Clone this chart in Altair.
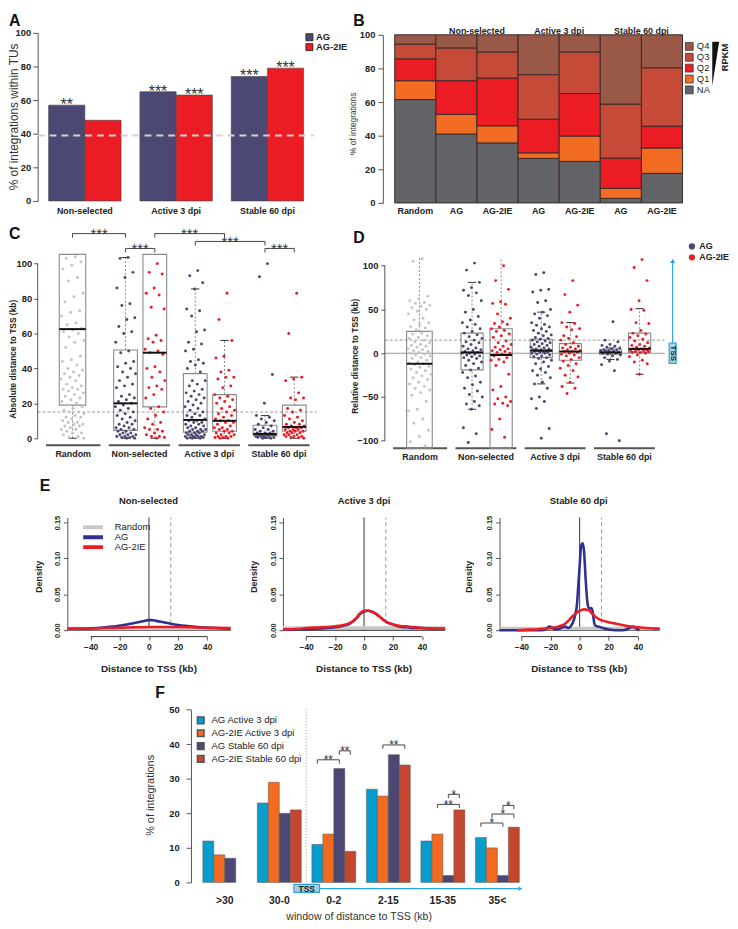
import altair as alt
import pandas as pd

FONT = "Liberation Sans"
W, H = 730, 921

NAVY = "#4B4874"
RED = "#EC1C24"
PTGREY = "#C4C4C4"
BLUE = "#2AA6DE"

# ================= DATA =================
# ---- A : % of integrations within TUs ----
A_groups = ["Non-selected", "Active 3 dpi", "Stable 60 dpi"]
A_AG = [57, 65, 74]
A_2IE = [48, 63, 79]
A_stars_AG = ["**", "***", "***"]
A_stars_2IE = ["", "***", "***"]
A_random_pct = 39

# ---- B : RPKM quartiles (segment heights, %) ----
B_keys = ["Random", "Non-selected|AG", "Non-selected|AG-2IE", "Active 3 dpi|AG",
          "Active 3 dpi|AG-2IE", "Stable 60 dpi|AG", "Stable 60 dpi|AG-2IE"]
B_NA = [61.5, 41.0, 35.7, 26.5, 24.7, 2.7, 17.6]
B_Q1 = [11.2, 11.7, 10.2, 3.3, 15.1, 5.9, 15.1]
B_Q2 = [13.0, 20.0, 28.4, 20.0, 25.3, 18.1, 13.0]
B_Q3 = [8.8, 19.5, 15.5, 26.5, 24.7, 32.1, 34.7]
B_Q4 = [5.5, 7.8, 10.2, 23.7, 10.2, 41.2, 19.6]

# ---- C : absolute distance to TSS (kb) ----
GROUPS = ["Random", "Non-selected", "Active 3 dpi", "Stable 60 dpi"]
BOXES = [("Random", "Random"), ("Non-selected", "AG"), ("Non-selected", "AG-2IE"),
         ("Active 3 dpi", "AG"), ("Active 3 dpi", "AG-2IE"),
         ("Stable 60 dpi", "AG"), ("Stable 60 dpi", "AG-2IE")]
C_random = [104, 103, 101, 99, 97, 92, 90, 83, 81, 78, 73, 72, 70, 66, 65, 63, 62, 61, 60, 58,
            56, 55, 52, 47, 45, 44, 42, 40, 39, 38, 37, 36, 35, 34, 33, 31, 30, 29, 28, 28, 27,
            26, 25, 24, 23, 22, 21, 20, 19, 18, 17, 16, 15, 15, 14, 13, 12, 12, 11, 10, 9, 9, 8,
            8, 7, 7, 6, 5, 5, 4, 3, 3, 2, 1, 0.5, 0]
C_ns_ag = [103.5, 103, 95, 92, 86, 77, 76, 69, 68, 64, 61, 60, 55, 50, 49, 44, 43, 41, 40, 38,
           37, 35, 33, 31, 30, 29, 25, 24, 23, 22, 21, 20, 19, 18, 17, 16, 15, 14, 13, 12, 11,
           10, 9, 8, 8, 7, 6, 6, 5, 5, 4, 4, 3, 3, 2, 2, 2, 1, 1, 1, 0.5, 0.5, 0, 0]
C_ns_2ie = [100, 95, 94, 86, 83, 82, 75, 74, 59, 57, 56, 55, 51, 50, 49, 48, 41, 40, 38, 35,
            33, 30, 29, 28, 25, 23, 18, 17, 15, 13, 11, 9, 8, 6, 5, 5, 4, 3, 2, 1, 1, 0.5, 0]
C_act_ag = [96, 93, 89, 85.5, 74, 73, 70, 62, 61, 55, 54, 51, 50, 45, 44, 43, 42, 40, 38, 33,
            33, 31, 30, 28, 27, 26, 25, 24, 23, 22, 21, 20, 19, 18, 17, 16, 15, 14, 13, 13, 12,
            11, 10, 10, 9, 9, 8, 8, 7, 7, 6, 6, 5, 5, 5, 4, 4, 4, 3, 3, 3, 2, 2, 2, 2, 1, 1, 1,
            1, 0.5, 0.5, 0.5, 0, 0, 0]
C_act_2ie = [83, 68, 56, 47, 46, 39, 38, 35, 35, 34, 30, 29, 25, 24, 23, 22, 21, 20, 18, 17,
             16, 15, 14, 13, 12, 11, 10, 10, 9, 9, 8, 7, 6, 6, 5, 5, 4, 4, 3, 3, 2, 2, 1, 1, 1,
             0.5, 0.5, 0, 0]
C_st_ag = [100, 92.5, 36.5, 20, 13, 12, 11, 10, 9, 8, 7, 6, 5, 5, 4, 4, 3, 3, 3, 2, 2, 2, 2, 2,
           1, 1, 1, 1, 0.5, 0.5, 0.5, 0, 0]
C_st_2ie = [83, 60, 35, 34, 33, 26, 23, 23, 22, 17, 16, 15, 13, 12, 11, 10, 9, 8, 8, 7, 7, 6, 6,
            6, 5, 5, 5, 4, 4, 4, 3, 3, 3, 2, 2, 2, 1, 1, 1, 0.5, 0.5, 0]
C_q1 = [19, 4.5, 18, 3.5, 4, 1.5, 4]
C_med = [62.5, 20, 49, 10.5, 10, 2.5, 6.5]
C_q3 = [125, 50.5, 112, 37, 25, 7.5, 19]
C_lo = [0, 0, 0, 0, 0, 0, 0]
C_hi = [200, 103.5, 150, 85.5, 56, 13, 35]
C_threshold = 15
C_brackets = [("Random", "Random", "Non-selected", "AG", 117.2, "***"),
              ("Non-selected", "AG", "Non-selected", "AG-2IE", 108.7, "***"),
              ("Non-selected", "AG-2IE", "Active 3 dpi", "AG-2IE", 117.2, "***"),
              ("Active 3 dpi", "AG", "Stable 60 dpi", "AG", 112.7, "***"),
              ("Stable 60 dpi", "AG", "Stable 60 dpi", "AG-2IE", 108.7, "***")]

# ---- D : relative distance to TSS (kb) ----
D_random = [108, 105, 65, 62, 60, 58, 57, 55, 54, 52, 50, 48, 45, 40, 38, 35, 33, 30, 29, 27,
            25, 23, 22, 20, 18, 17, 15, 13, 12, 10, 9, 8, 7, 5, 4, 3, 2, 1, 0, -1, -2, -3, -5,
            -6, -8, -10, -11, -12, -13, -15, -16, -18, -20, -22, -24, -26, -28, -30, -33, -35,
            -38, -40, -42, -45, -48, -55, -64, -66, -75, -80, -88, -95, -101, -106]
D_ns_ag = [103, 95, 81, 75, 72, 69, 66, 60, 50, 47, 42, 38, 35, 33, 30, 28, 25, 23, 21, 19, 17,
           15, 13, 12, 10, 8, 6, 5, 4, 3, 2, 1, 0, 0, -1, -2, -3, -4, -5, -6, -8, -10, -12, -14,
           -17, -19, -22, -26, -28, -33, -36, -40, -43, -47, -50, -55, -58, -60, -64, -85, -92,
           -102]
D_ns_2ie = [100, 83, 73, 59, 57, 56, 45, 40, 36, 34, 33, 30, 28, 26, 25, 22, 20, 18, 14, 12, 10,
            8, 7, 5, 4, 3, 2, 1, 0, -1, -3, -5, -7, -8, -10, -14, -24, -38, -42, -50, -52, -55,
            -57, -58, -60, -75, -87, -96]
D_act_ag = [92, 90, 73, 72, 70, 60, 58, 50, 47, 45, 43, 40, 35, 33, 32, 30, 28, 26, 25, 23, 21,
            20, 18, 17, 16, 15, 14, 13, 12, 11, 10, 9, 8, 7, 6, 5, 5, 4, 4, 3, 3, 3, 2, 2, 1, 1,
            0, 0, -1, -2, -3, -4, -5, -6, -8, -10, -12, -15, -18, -20, -22, -25, -28, -33, -35,
            -40, -50, -52, -55, -63, -86, -97]
D_act_2ie = [83, 67, 55, 47, 35, 34, 30, 28, 27, 20, 19, 17, 15, 12, 10, 8, 7, 6, 5, 4, 3, 2, 2,
             1, 0, -1, -2, -3, -5, -7, -9, -12, -14, -17, -20, -25, -27, -33, -38, -40, -46]
D_st_ag = [36, 15, 13, 10, 9, 8, 7, 6, 5, 4, 4, 3, 3, 2, 2, 1, 1, 0, 0, -1, -2, -3, -5, -7, -9,
           -13, -20, -92, -100]
D_st_2ie = [107, 98, 83, 60, 50, 49, 35, 34, 26, 23, 22, 20, 18, 16, 14, 12, 10, 9, 8, 7, 6, 5,
            5, 4, 4, 3, 3, 2, 2, 1, 1, 0, -2, -4, -8, -10, -12, -24]
D_q1 = [-120, -19, -115, -5, -8, -1, 1]
D_med = [-12, 1, -2, 3, 2, 1, 5]
D_q3 = [25, 23, 28, 16, 11, 4, 23]
D_lo = [-200, -64, -150, -35, -34, -7, -24]
D_hi = [200, 81, 150, 47, 35, 6, 51]
D_threshold = 15
D_tss = 0

# ---- E : density of distance to TSS ----
E_series = ["Random", "AG", "AG-2IE"]
E1_rand_x = [-56, 56]
E1_rand_y = [0.0025, 0.0025]
E1_ag_x = [-56, -45, -35, -25, -20, -15, -10, -5, 0, 2, 5, 10, 15, 20, 25, 30, 35, 45, 56]
E1_ag_y = [0.002, 0.002, 0.003, 0.005, 0.0065, 0.008, 0.010, 0.012, 0.014, 0.014, 0.013, 0.011,
           0.009, 0.0073, 0.006, 0.005, 0.004, 0.003, 0.002]
E1_2ie_x = [-56, -40, -30, -20, -10, 0, 10, 20, 30, 40, 56]
E1_2ie_y = [0.002, 0.0025, 0.003, 0.0035, 0.004, 0.0045, 0.0045, 0.0045, 0.004, 0.0035, 0.003]

E2_rand_x = [-56, 56]
E2_rand_y = [0.003, 0.003]
E2_x = [-56, -45, -40, -30, -20, -15, -10, -7, -5, -3, 0, 3, 5, 8, 10, 13, 15, 20, 25, 30, 35,
        40, 45, 56]
E2_ag_y = [0.0008, 0.001, 0.0015, 0.0025, 0.004, 0.006, 0.009, 0.013, 0.017, 0.022, 0.026,
           0.027, 0.026, 0.023, 0.020, 0.015, 0.012, 0.008, 0.005, 0.004, 0.003, 0.003, 0.0025,
           0.002]
E2_2ie_y = [0.001, 0.002, 0.003, 0.004, 0.0055, 0.007, 0.010, 0.014, 0.018, 0.023, 0.027,
            0.0275, 0.026, 0.023, 0.020, 0.015, 0.012, 0.008, 0.006, 0.005, 0.004, 0.003, 0.0025,
            0.002]

E3_rand_x = [-55, 55]
E3_rand_y = [0.0025, 0.0025]
E3_ag_x = [-55, -26, -23, -21, -19, -17, -14, -12, -10, -8, -6, -4, -3, -2, -1, 0, 1, 2, 3, 4,
           5, 6, 7, 8, 9, 10, 11, 13, 16, 20, 25, 30, 33, 35, 37, 39, 41]
E3_ag_y = [0, 0, 0.002, 0.005, 0.004, 0.001, 0.002, 0.004, 0.005, 0.003, 0.006, 0.014, 0.022,
           0.033, 0.06, 0.09, 0.117, 0.121, 0.11, 0.075, 0.045, 0.032, 0.03, 0.031, 0.025, 0.01,
           0.006, 0.005, 0.003, 0.001, 0, 0, 0.002, 0.004, 0.005, 0.002, 0]
E3_2ie_x = [-43, -35, -30, -25, -20, -15, -10, -6, -3, 0, 3, 6, 9, 12, 15, 20, 25, 30, 35, 40,
            45, 50, 55]
E3_2ie_y = [0, 0.0008, 0.001, 0.002, 0.003, 0.005, 0.009, 0.017, 0.023, 0.027, 0.029, 0.028,
            0.022, 0.017, 0.014, 0.011, 0.009, 0.007, 0.005, 0.004, 0.003, 0.0025, 0.002]
E_threshold = 15

# ---- F : % of integrations by window ----
F_windows = [">30", "30-0", "0-2", "2-15", "15-35", "35<"]
F_series = ["AG Active 3 dpi", "AG-2IE Active 3 dpi", "AG Stable 60 dpi", "AG-2IE Stable 60 dpi"]
F_ag_act = [12, 23, 11, 27, 12, 13]
F_2ie_act = [8, 29, 14, 25, 14, 10]
F_ag_st = [7, 20, 33, 37, 2, 2]
F_2ie_st = [None, 21, 9, 34, 21, 16]
F_brackets = [("0-2", "AG Active 3 dpi", "AG Stable 60 dpi", 35.5, "**"),
              ("0-2", "AG Stable 60 dpi", "AG-2IE Stable 60 dpi", 38.1, "**"),
              ("2-15", "AG-2IE Active 3 dpi", "AG-2IE Stable 60 dpi", 39.8, "**"),
              ("15-35", "AG Stable 60 dpi", "AG-2IE Stable 60 dpi", 25.5, "*"),
              ("15-35", "AG-2IE Active 3 dpi", "AG-2IE Stable 60 dpi", 22.6, "**"),
              ("35<", "AG Active 3 dpi", "AG Stable 60 dpi", 17.2, "*"),
              ("35<", "AG-2IE Active 3 dpi", "AG-2IE Stable 60 dpi", 19.8, "*"),
              ("35<", "AG Stable 60 dpi", "AG-2IE Stable 60 dpi", 22.3, "*")]

# ================= HELPERS =================
ONE = pd.DataFrame({"k": [0]})


def txt(s, x, y, size=9, weight="bold", angle=0, color="#222", align="center", baseline="middle"):
    return alt.Chart(ONE).mark_text(text=s, font=FONT, fontSize=size, fontWeight=weight,
                                    angle=angle, color=color, align=align,
                                    baseline=baseline).encode(x=alt.value(x), y=alt.value(y))


# ================= PANEL A =================
dfA = pd.DataFrame({"group": A_groups * 2, "sample": ["AG"] * 3 + ["AG-2IE"] * 3,
                    "pct": A_AG + A_2IE, "stars": A_stars_AG + A_stars_2IE})
xA = alt.X("group:N", sort=A_groups, title=None,
           scale=alt.Scale(domain=A_groups, range=[30, 310], paddingInner=0.2065, paddingOuter=0.12),
           axis=alt.Axis(orient="bottom", offset=190 - H, ticks=False, domain=False, labelAngle=0,
                         labelFontSize=9, labelFontWeight="bold", labelPadding=6))
yA = alt.Y("pct:Q", title=None,
           scale=alt.Scale(domain=[0, 100], range=[190, 20], nice=False, zero=False),
           axis=alt.Axis(orient="left", offset=-30, values=[0, 20, 40, 60, 80, 100], tickSize=5,
                         labelPadding=2, labelFontSize=9.5, labelFontWeight="bold"))
xoA = alt.XOffset("sample:N", sort=["AG", "AG-2IE"],
                  scale=alt.Scale(domain=["AG", "AG-2IE"], paddingInner=0, paddingOuter=0))
colA = alt.Color("sample:N", scale=alt.Scale(domain=["AG", "AG-2IE"], range=[NAVY, RED]),
                 legend=alt.Legend(orient="none", legendX=300, legendY=19.5, title=None,
                                   symbolType="square", symbolSize=50, symbolStrokeColor="#333",
                                   symbolStrokeWidth=1, labelFontSize=9.5, labelFontWeight="bold",
                                   labelOffset=2, rowPadding=0, clipHeight=10))
barsA = alt.Chart(dfA).mark_bar(stroke="#444", strokeWidth=0.6).encode(
    x=xA, xOffset=xoA, y=yA, color=colA)
starsA = alt.Chart(dfA).mark_text(font=FONT, fontSize=16, baseline="alphabetic", dy=5,
                                  color="#333").encode(x=xA, xOffset=xoA, y=yA, text="stars:N")
refA = alt.Chart(pd.DataFrame({"pct": [A_random_pct]})).mark_rule(
    color="#D2D2D2", strokeWidth=2, strokeDash=[7, 5]).encode(
    y=yA, x=alt.value(30), x2=alt.value(309))
panelA = alt.layer(barsA, refA, starsA)

# ================= PANEL B =================
B_vals = {"NA": B_NA, "Q1": B_Q1, "Q2": B_Q2, "Q3": B_Q3, "Q4": B_Q4}
dfB = pd.DataFrame([{"key": k, "q": q, "v": B_vals[q][i]}
                    for i, k in enumerate(B_keys) for q in ["NA", "Q1", "Q2", "Q3", "Q4"]])
xB = alt.X("key:N", sort=B_keys, title=None,
           scale=alt.Scale(domain=B_keys, range=[391, 682], paddingInner=0, paddingOuter=0),
           axis=alt.Axis(orient="bottom", offset=192 - H, ticks=False, domain=False, labelAngle=0,
                         labelFontSize=9, labelFontWeight="bold", labelPadding=4,
                         labelExpr="indexof(datum.label, '|') >= 0 ? split(datum.label, '|')[1] : datum.label"))
yB = alt.Y("v:Q", stack="zero", title=None,
           scale=alt.Scale(domain=[0, 100], range=[192, 22], nice=False, zero=False),
           axis=alt.Axis(orient="left", offset=-379, values=[0, 20, 40, 60, 80, 100], tickSize=5,
                         labelPadding=3, labelFontSize=9.5, labelFontWeight="bold"))
colB = alt.Color("q:N", scale=alt.Scale(domain=["Q4", "Q3", "Q2", "Q1", "NA"],
                                        range=["#9A5846", "#C54B38", "#EC1C24", "#F26C23", "#626366"]),
                 legend=alt.Legend(orient="none", legendX=684, legendY=28.5, title=None,
                                   symbolType="square", symbolSize=64, symbolStrokeColor="#333",
                                   symbolStrokeWidth=0.8, labelFontSize=9.5, labelOffset=3,
                                   rowPadding=0, clipHeight=10.4))
barsB = alt.Chart(dfB).transform_calculate(
    ord="indexof(['NA','Q1','Q2','Q3','Q4'], datum.q)").mark_bar(
    stroke="#3B2A2A", strokeWidth=1).encode(x=xB, y=yB, color=colB,
                                            order=alt.Order("ord:Q", sort="ascending"))
dfBh = pd.DataFrame({"key": [k for k in B_keys if k.endswith("|AG")],
                     "lab": [k.split("|")[0] for k in B_keys if k.endswith("|AG")]})
headB = alt.Chart(dfBh).mark_text(font=FONT, fontSize=9, fontWeight="bold", dx=20.8,
                                  color="#222").encode(x=xB, y=alt.value(18), text="lab:N")
panelB = alt.layer(barsB, headB)

# ================= PANELS C / D =================
GJS = "['Random','Non-selected','Active 3 dpi','Stable 60 dpi']"


def pos_expr(g, s):
    return (f"datum.{s} == 'Random' ? 0.5 : indexof({GJS}, datum.{g}) + 0.47 + "
            f"(datum.{s} == 'AG' ? -0.21 : 0.21)")


def points_df(lists):
    rows = []
    for (g, s), vals in zip(BOXES, lists):
        rows += [{"group": g, "sample": s, "v": v} for v in vals]
    return pd.DataFrame(rows)


def stats_df(q1, med, q3, lo, hi):
    return pd.DataFrame({"group": [b[0] for b in BOXES], "sample": [b[1] for b in BOXES],
                         "q1": q1, "med": med, "q3": q3, "lo": lo, "hi": hi})


def box_panel(pts, stats, xr, ydom, yr, yvals, lpad, hlines, x_end, ul_y, lab_y, hw, hwR,
              legend, extra=None, brackets=None):
    ymin, ymax = ydom
    xs = alt.Scale(domain=[0, 4], range=xr, nice=False, zero=False)
    ys = alt.Scale(domain=ydom, range=yr, nice=False, zero=False)
    yax = alt.Axis(orient="left", offset=-xr[0], values=yvals, tickSize=4, labelPadding=lpad,
                   domain=False, labelFontSize=9.5, labelFontWeight="bold")

    def X(f):
        return alt.X(f, scale=xs, axis=None, title=None)

    def Y(f):
        return alt.Y(f, scale=ys, axis=yax, title=None)

    layers = []
    for v, dash, col in hlines:
        kw = dict(color=col, strokeWidth=1)
        if dash:
            kw["strokeDash"] = dash
        layers.append(alt.Chart(pd.DataFrame({"v": [v]})).mark_rule(**kw).encode(
            y=Y("v:Q"), x=alt.value(xr[0]), x2=alt.value(x_end)))
    layers.append(alt.Chart(pd.DataFrame({"a": [yvals[0]], "b": [yvals[-1]]})).mark_rule(
        color="#555").encode(x=alt.value(xr[0]), y=Y("a:Q"), y2=alt.Y2("b")))
    gbase = alt.Chart(pd.DataFrame({"group": GROUPS})).transform_calculate(
        gc=f"datum.group == 'Random' ? 0.51 : indexof({GJS}, datum.group) + 0.46",
        hw="datum.group == 'Random' ? 0.39 : 0.44",
        u1="datum.gc - datum.hw", u2="datum.gc + datum.hw")
    layers.append(gbase.mark_rule(color="#555", strokeWidth=2).encode(
        x=X("u1:Q"), x2=alt.X2("u2"), y=alt.value(ul_y)))
    layers.append(gbase.mark_text(font=FONT, fontSize=9, fontWeight="bold", color="#222").encode(
        x=X("gc:Q"), y=alt.value(lab_y), text="group:N"))

    base = alt.Chart(stats).transform_calculate(
        pos=pos_expr("group", "sample"),
        hw=f"datum.sample == 'Random' ? {hwR} : {hw}",
        b1="datum.pos - datum.hw", b2="datum.pos + datum.hw",
        c1="datum.pos - 0.06", c2="datum.pos + 0.06",
        q1c=f"max(datum.q1, {ymin})", q3c=f"min(datum.q3, {ymax})",
        hic=f"min(datum.hi, {ymax})", loc=f"max(datum.lo, {ymin})")
    layers.append(base.mark_rect(fillOpacity=0, stroke="#8A8A8A", strokeWidth=1.1).encode(
        x=X("b1:Q"), x2=alt.X2("b2"), y=Y("q1c:Q"), y2=alt.Y2("q3c")))
    layers.append(base.mark_rule(strokeDash=[2, 2], color="#8A8A8A").encode(
        x=X("pos:Q"), y=Y("q3c:Q"), y2=alt.Y2("hic")))
    layers.append(base.mark_rule(strokeDash=[2, 2], color="#8A8A8A").encode(
        x=X("pos:Q"), y=Y("loc:Q"), y2=alt.Y2("q1c")))
    layers.append(base.transform_filter(f"datum.hi < {ymax}").mark_rule(color="#333").encode(
        x=X("c1:Q"), x2=alt.X2("c2"), y=Y("hi:Q")))
    layers.append(base.transform_filter(f"datum.lo > {ymin}").mark_rule(color="#333").encode(
        x=X("c1:Q"), x2=alt.X2("c2"), y=Y("lo:Q")))

    col = alt.Color("sample:N", scale=alt.Scale(domain=["Random", "AG", "AG-2IE"],
                                                range=[PTGREY, NAVY, RED]),
                    legend=legend)
    layers.append(alt.Chart(pts).transform_filter(
        f"datum.v >= {ymin} && datum.v <= {ymax}").transform_window(
        idx="row_number()", groupby=["group", "sample"]).transform_calculate(
        pos=pos_expr("group", "sample"),
        xp="datum.pos + ((datum.idx * 0.618034) % 1 - 0.5) * (datum.sample == 'Random' ? 0.34 : 0.30)"
    ).mark_circle(size=9, opacity=1).encode(x=X("xp:Q"), y=Y("v:Q"), color=col))

    layers.append(base.mark_rule(color="#111", strokeWidth=2).encode(
        x=X("b1:Q"), x2=alt.X2("b2"), y=Y("med:Q")))

    if brackets is not None:
        bb = alt.Chart(brackets).transform_calculate(
            p1=pos_expr("g1", "s1"), p2=pos_expr("g2", "s2"),
            pm="(datum.p1 + datum.p2) / 2", lev2="datum.lev - 2.3")
        layers.append(bb.mark_rule(color="#444").encode(
            x=X("p1:Q"), x2=alt.X2("p2"), y=Y("lev:Q")))
        layers.append(bb.mark_rule(color="#444").encode(
            x=X("p1:Q"), y=Y("lev:Q"), y2=alt.Y2("lev2")))
        layers.append(bb.mark_rule(color="#444").encode(
            x=X("p2:Q"), y=Y("lev:Q"), y2=alt.Y2("lev2")))
        layers.append(bb.mark_text(font=FONT, fontSize=15, baseline="alphabetic", dy=5.5,
                                   color="#333").encode(x=X("pm:Q"), y=Y("lev:Q"), text="lab:N"))
    if extra is not None:
        layers += extra(X, Y)
    return alt.layer(*layers)


ptsC = points_df([C_random, C_ns_ag, C_ns_2ie, C_act_ag, C_act_2ie, C_st_ag, C_st_2ie])
stC = stats_df(C_q1, C_med, C_q3, C_lo, C_hi)
brC = pd.DataFrame(C_brackets, columns=["g1", "s1", "g2", "s2", "lev", "lab"])
panelC = box_panel(ptsC, stC, xr=[30, 312], ydom=[-4, 105.3], yr=[437, 244],
                   yvals=[0, 20, 40, 60, 80, 100], lpad=2,
                   hlines=[(C_threshold, [3, 2], "#999")], x_end=312, ul_y=437, lab_y=446,
                   hw=0.17, hwR=0.19, legend=None, brackets=brC)


def d_extra(X, Y):
    out = []
    out.append(alt.Chart(pd.DataFrame({"a": [11.5], "b": [104]})).mark_rule(
        color=BLUE, strokeWidth=1.2).encode(x=alt.value(672), y=Y("a:Q"), y2=alt.Y2("b")))
    out.append(alt.Chart(pd.DataFrame({"v": [105.5]})).mark_point(
        shape="triangle-up", size=26, filled=True, color=BLUE, opacity=1).encode(
        x=alt.value(672), y=Y("v:Q")))
    out.append(alt.Chart(pd.DataFrame({"a": [D_tss - 11.5], "b": [D_tss + 11.5]})).mark_rect(
        fill="#A8D6EC", stroke=BLUE, strokeWidth=1.2).encode(
        x=alt.value(668.5), x2=alt.value(675.5), y=Y("a:Q"), y2=alt.Y2("b")))
    out.append(alt.Chart(pd.DataFrame({"v": [D_tss]})).mark_text(
        text="TSS", font=FONT, fontSize=8, fontWeight="bold", angle=90, color="#222").encode(
        x=alt.value(672), y=Y("v:Q")))
    return out


ptsD = points_df([D_random, D_ns_ag, D_ns_2ie, D_act_ag, D_act_2ie, D_st_ag, D_st_2ie])
stD = stats_df(D_q1, D_med, D_q3, D_lo, D_hi)
legD = alt.Legend(orient="none", legendX=687, legendY=230.5, title=None, values=["AG", "AG-2IE"],
                  symbolType="circle", symbolSize=40, labelFontSize=9, labelFontWeight="bold",
                  labelOffset=3, rowPadding=0, clipHeight=11)
panelD = box_panel(ptsD, stD, xr=[381, 661], ydom=[-108.5, 109.6], yr=[440, 247],
                   yvals=[-100, -50, 0, 50, 100], lpad=3,
                   hlines=[(D_tss, None, "#999"), (D_threshold, [3, 2], "#999")], x_end=664,
                   ul_y=440, lab_y=449, hw=0.16, hwR=0.185, legend=legD, extra=d_extra)

# ================= PANEL E =================
E_COLORS = ["#C8C8C8", "#2E3192", "#ED1C24"]


def curve_df(xs, ys, s):
    return pd.DataFrame({"x": xs, "y": ys, "s": [s] * len(xs)})


def dens_panel(xr, xdom, curves, legend):
    xs = alt.Scale(domain=xdom, range=xr, nice=False, zero=False)
    ys = alt.Scale(domain=[0, 0.157], range=[624, 510], nice=False, zero=False)
    xax = alt.Axis(orient="bottom", offset=630 - H, values=[-40, -20, 0, 20, 40], tickSize=4,
                   labelPadding=3, domain=False, labelFontSize=8.5, labelFontWeight="bold",
                   labelFlush=False, labelOverlap=False)
    yax = alt.Axis(orient="left", offset=-xr[0], values=[0, 0.05, 0.10, 0.15], format=".2f",
                   tickSize=4, labelPadding=2, labelAngle=270, labelAlign="center",
                   labelBaseline="bottom", labelFontSize=7.5, labelFontWeight="bold",
                   labelFlush=False, labelOverlap=False)

    def X(f):
        return alt.X(f, scale=xs, axis=xax, title=None)

    def Y(f):
        return alt.Y(f, scale=ys, axis=yax, title=None)

    col = alt.Color("s:N", scale=alt.Scale(domain=E_series, range=E_COLORS), legend=legend)
    layers = [
        alt.Chart(pd.DataFrame({"x": [0], "a": [0], "b": [0.157]})).mark_rule(
            color="#333").encode(x=X("x:Q"), y=Y("a:Q"), y2=alt.Y2("b")),
        alt.Chart(pd.DataFrame({"x": [E_threshold], "a": [0], "b": [0.157]})).mark_rule(
            color="#999", strokeDash=[4, 3]).encode(x=X("x:Q"), y=Y("a:Q"), y2=alt.Y2("b")),
        alt.Chart(pd.DataFrame({"x1": [xdom[0]], "x2": [xdom[1]], "y": [0]})).mark_rule(
            color="#222", strokeWidth=1.2).encode(x=X("x1:Q"), x2=alt.X2("x2"), y=Y("y:Q")),
        alt.Chart(pd.DataFrame({"x1": [-40], "x2": [40]})).mark_rule(color="#333").encode(
            x=X("x1:Q"), x2=alt.X2("x2"), y=alt.value(630.5)),
    ]
    widths = {"Random": 3.5, "AG": 2.6, "AG-2IE": 2.6}
    for s, df in curves:
        layers.append(alt.Chart(df).mark_line(strokeWidth=widths[s], interpolate="monotone").encode(
            x=X("x:Q"), y=Y("y:Q"), color=col))
    return alt.layer(*layers)


legE = alt.Legend(orient="none", legendX=74, legendY=515, title=None, symbolType="stroke",
                  symbolSize=400, symbolStrokeWidth=4, labelFontSize=9.5, labelOffset=10,
                  rowPadding=0, clipHeight=10)
panelE1 = dens_panel([60, 225], [-56, 56], [
    ("Random", curve_df(E1_rand_x, E1_rand_y, "Random")),
    ("AG", curve_df(E1_ag_x, E1_ag_y, "AG")),
    ("AG-2IE", curve_df(E1_2ie_x, E1_2ie_y, "AG-2IE"))], legE)
panelE2 = dens_panel([278, 442], [-56, 56], [
    ("Random", curve_df(E2_rand_x, E2_rand_y, "Random")),
    ("AG", curve_df(E2_x, E2_ag_y, "AG")),
    ("AG-2IE", curve_df(E2_x, E2_2ie_y, "AG-2IE"))], None)
panelE3 = dens_panel([497, 659], [-55, 55], [
    ("Random", curve_df(E3_rand_x, E3_rand_y, "Random")),
    ("AG", curve_df(E3_ag_x, E3_ag_y, "AG")),
    ("AG-2IE", curve_df(E3_2ie_x, E3_2ie_y, "AG-2IE"))], None)

# ================= PANEL F =================
F_vals = {F_series[0]: F_ag_act, F_series[1]: F_2ie_act, F_series[2]: F_ag_st,
          F_series[3]: F_2ie_st}
dfF = pd.DataFrame([{"win": w, "series": s, "v": F_vals[s][i]}
                    for s in F_series for i, w in enumerate(F_windows)]).dropna()
F_RANGE = [185, 529]
F_PI, F_PO = 0.194, 0.217
yFs = alt.Scale(domain=[0, 50], range=[879, 704.4], nice=False, zero=False)
xF = alt.X("win:N", sort=F_windows, title=None,
           scale=alt.Scale(domain=F_windows, range=F_RANGE, paddingInner=F_PI, paddingOuter=F_PO),
           axis=alt.Axis(orient="bottom", offset=879 - H, ticks=False, domain=False, labelAngle=0,
                         labelFontSize=10.5, labelFontWeight="bold", labelPadding=13))
yF = alt.Y("v:Q", title=None, scale=yFs,
           axis=alt.Axis(orient="left", offset=-185, values=[0, 10, 20, 30, 40, 50], tickSize=5,
                         labelPadding=7, labelFontSize=9.5, labelFontWeight="bold"))
xoF = alt.XOffset("series:N", sort=F_series,
                  scale=alt.Scale(domain=F_series, paddingInner=0, paddingOuter=0))
colF = alt.Color("series:N", scale=alt.Scale(domain=F_series,
                                             range=["#0A9BCD", "#F26B21", NAVY, "#C4472F"]),
                 legend=alt.Legend(orient="none", legendX=190, legendY=709, title=None,
                                   symbolType="square", symbolSize=45, labelFontSize=9.7,
                                   labelOffset=6, rowPadding=0, clipHeight=12.3))
barsF = alt.Chart(dfF).mark_bar(stroke="#555", strokeWidth=0.5).encode(
    x=xF, xOffset=xoF, y=yF, color=colF)
panelF = alt.layer(
    barsF,
    alt.Chart(ONE).mark_rule(color="#999", strokeDash=[1, 2]).encode(
        x=alt.value(301.5), y=alt.value(704), y2=alt.value(879)),
    alt.Chart(ONE).mark_rule(color=BLUE, strokeWidth=1.2).encode(
        x=alt.value(315), x2=alt.value(516), y=alt.value(885.3)),
    alt.Chart(ONE).mark_point(shape="triangle-right", size=22, filled=True, color=BLUE,
                              opacity=1).encode(x=alt.value(518), y=alt.value(885.3)),
    alt.Chart(ONE).mark_rect(fill="#A6CFE2", stroke=BLUE, strokeWidth=1.2).encode(
        x=alt.value(289), x2=alt.value(315), y=alt.value(881), y2=alt.value(889)),
    txt("TSS", 302, 885.3, size=8.5, weight="bold", color="#1A1A1A"),
)

# brackets for F: bar centres follow the band scale parameters above
f_step = (F_RANGE[1] - F_RANGE[0]) / (len(F_windows) - F_PI + 2 * F_PO)
f_sub = f_step * (1 - F_PI) / len(F_series)


def f_center(w, s):
    return (F_RANGE[0] + F_PO * f_step + F_windows.index(w) * f_step
            + (F_series.index(s) + 0.5) * f_sub)


brF = pd.DataFrame([{"x1": f_center(w, a), "x2": f_center(w, b), "xm": (f_center(w, a) + f_center(w, b)) / 2,
                     "lev": lev, "lev2": lev - 1.1, "lab": lab}
                    for w, a, b, lev, lab in F_brackets])
yBr = alt.Y("lev:Q", scale=yFs, axis=None, title=None)
bracketsF = alt.layer(
    alt.Chart(brF).mark_rule(color="#444").encode(
        x=alt.X("x1:Q", scale=None, axis=None), x2=alt.X2("x2"), y=yBr),
    alt.Chart(brF).mark_rule(color="#444").encode(
        x=alt.X("x1:Q", scale=None, axis=None), y=yBr, y2=alt.Y2("lev2")),
    alt.Chart(brF).mark_rule(color="#444").encode(
        x=alt.X("x2:Q", scale=None, axis=None), y=yBr, y2=alt.Y2("lev2")),
    alt.Chart(brF).mark_text(font=FONT, fontSize=12, baseline="alphabetic", dy=4.5,
                             color="#333").encode(
        x=alt.X("xm:Q", scale=None, axis=None), y=yBr, text="lab:N"),
)

# ================= FREE TEXT =================
texts = [
    txt("A", 1, 0, size=16, align="left", baseline="top", color="#111"),
    txt("B", 349, 0, size=16, align="left", baseline="top", color="#111"),
    txt("C", 1, 215, size=16, align="left", baseline="top", color="#111"),
    txt("D", 349, 219, size=16, align="left", baseline="top", color="#111"),
    txt("E", 32, 470, size=16, align="left", baseline="top", color="#111"),
    txt("F", 149, 680, size=16, align="left", baseline="top", color="#111"),
    txt("% of integrations within TUs", 6, 105, size=12, weight="normal", angle=270, color="#333"),
    txt("% of integrations", 349, 112, size=8.5, weight="normal", angle=270, color="#333"),
    txt("RPKM", 725, 45, size=9.5, weight="bold", angle=270),
    alt.Chart(ONE).mark_point(shape="M -0.15 -1 L 0.16 -1 L -0.15 1 Z", size=2025, filled=True,
                              color="#111", opacity=1, strokeWidth=0).encode(
        x=alt.value(715.4), y=alt.value(51.5)),
    txt("Absolute distance to TSS (kb)", 5, 350, size=8.5, angle=270),
    txt("Relative distance to TSS (kb)", 351, 347, size=8.5, angle=270),
    txt("Non-selected", 142, 493, size=9.5),
    txt("Active 3 dpi", 360, 493, size=9.5),
    txt("Stable 60 dpi", 577, 493, size=9.5),
    txt("Distance to TSS (kb)", 142.5, 663, size=10),
    txt("Distance to TSS (kb)", 360, 663, size=10),
    txt("Distance to TSS (kb)", 577.5, 663, size=10),
    txt("Density", 31, 570, size=9, angle=270),
    txt("Density", 249, 570, size=9, angle=270),
    txt("Density", 466, 570, size=9, angle=270),
    txt("% of integrations", 145, 791, size=11, weight="normal", angle=270, color="#333"),
    txt("window of distance to TSS (kb)", 355, 914, size=10.7, weight="normal", color="#333"),
]

chart = alt.layer(panelA, panelB, panelC, panelD, panelE1, panelE2, panelE3, panelF, bracketsF,
                  *texts).resolve_scale(
    x="independent", y="independent", color="independent", xOffset="independent"
).properties(width=W, height=H, padding=0, autosize=alt.AutoSizeParams(type="none")
).configure(font=FONT).configure_view(stroke=None).configure_axis(
    grid=False, domainColor="#555", tickColor="#555", labelColor="#222", labelFont=FONT,
    titleFont=FONT).configure_legend(labelFont=FONT, titleFont=FONT, padding=0,
                                     labelColor="#222")

chart.save("out.html", embed_options={"renderer": "svg", "actions": False})
